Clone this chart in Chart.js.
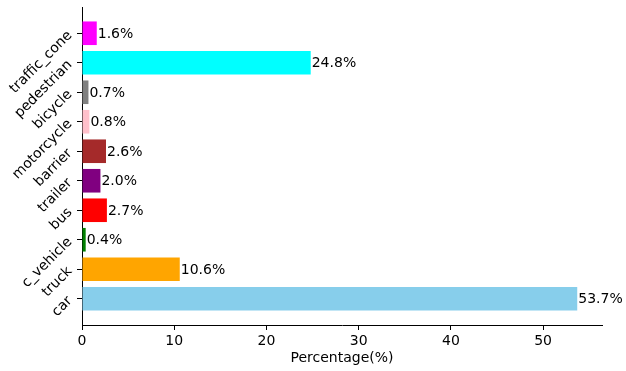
<!DOCTYPE html>
<html>
<head>
<meta charset="utf-8">
<script src="https://cdn.jsdelivr.net/npm/chart.js@4"></script>
<style>
  html, body { margin: 0; padding: 0; background: #fff; }
  #wrap { width: 626px; height: 371px; }
</style>
</head>
<body>
<div id="wrap"><canvas id="c" width="626" height="371"></canvas></div>
<script>
const categories = ['car', 'truck', 'c_vehicle', 'bus', 'trailer', 'barrier', 'motorcycle', 'bicycle', 'pedestrian', 'traffic_cone'];
const percentages = [53.7, 10.6, 0.4, 2.7, 2.0, 2.6, 0.8, 0.7, 24.8, 1.6];
const barColors = ['#87CEEB', '#FFA500', '#008000', '#FF0000', '#800080', '#A52A2A', '#FFC0CB', '#808080', '#00FFFF', '#FF00FF'];
const xTicks = [0, 10, 20, 30, 40, 50];
const xTitle = 'Percentage(%)';

const FONT = { family: '"DejaVu Sans", sans-serif', size: 14 };

const valueLabels = {
  id: 'valueLabels',
  afterDatasetsDraw(chart) {
    const ctx = chart.ctx;
    const meta = chart.getDatasetMeta(0);
    ctx.save();
    ctx.font = `${FONT.size}px ${FONT.family}`;
    ctx.fillStyle = '#000';
    ctx.textAlign = 'left';
    ctx.textBaseline = 'middle';
    meta.data.forEach((bar, i) => {
      ctx.fillText(percentages[i].toFixed(1) + '%', bar.x + 1, bar.y + 1);
    });
    ctx.restore();
  }
};

const maxVal = Math.max(...percentages) * 1.05;
const n = categories.length;
const yPad = (n - 1 + 0.8) * 0.05;

new Chart(document.getElementById('c'), {
  type: 'bar',
  data: {
    datasets: [{
      data: percentages.map((v, i) => ({ x: v, y: i })),
      backgroundColor: barColors,
      borderWidth: 0,
      barPercentage: 0.8,
      categoryPercentage: 1.0
    }]
  },
  options: {
    indexAxis: 'y',
    responsive: false,
    animation: false,
    devicePixelRatio: 1,
    layout: { padding: { top: 7, right: 24, left: 0, bottom: 0 } },
    plugins: { legend: { display: false }, tooltip: { enabled: false } },
    scales: {
      x: {
        type: 'linear',
        min: 0,
        max: maxVal,
        afterBuildTicks(scale) { scale.ticks = xTicks.map(v => ({ value: v })); },
        afterFit(scale) { scale.height = 46; scale.paddingLeft = 0; scale.paddingRight = 0; },
        grid: { display: true, drawOnChartArea: false, drawTicks: true, tickLength: 5, tickColor: '#000' },
        border: { display: true, color: '#000', width: 1 },
        ticks: { color: '#000', font: FONT, padding: 3, maxRotation: 0 },
        title: { display: true, text: xTitle, color: '#000', font: FONT, padding: { top: 0, bottom: 4 } }
      },
      y: {
        type: 'linear',
        offset: false,
        min: -0.4 - yPad,
        max: n - 1 + 0.4 + yPad,
        afterBuildTicks(scale) { scale.ticks = categories.map((_, i) => ({ value: i })); },
        afterFit(scale) { scale.width = 82; scale.paddingTop = 0; scale.paddingBottom = 0; },
        grid: { display: true, drawOnChartArea: false, drawTicks: true, tickLength: 5, tickColor: '#000', offset: false },
        border: { display: true, color: '#000', width: 1 },
        ticks: {
          color: '#000', font: FONT, padding: 7,
          minRotation: 45, maxRotation: 45,
          callback: (v) => categories[v] ?? ''
        }
      }
    }
  },
  plugins: [valueLabels]
});
</script>
</body>
</html>
